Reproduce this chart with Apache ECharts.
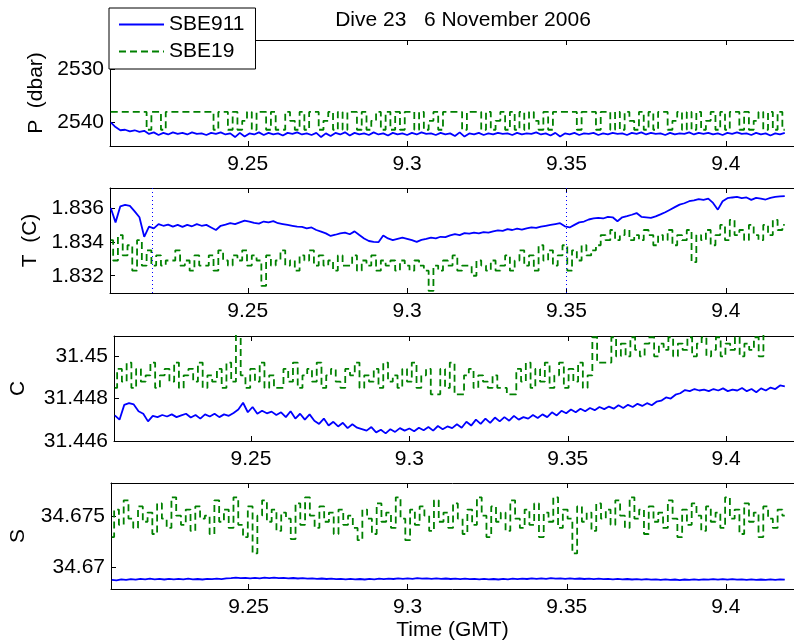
<!DOCTYPE html>
<html>
<head>
<meta charset="utf-8">
<script src="https://cdn.jsdelivr.net/npm/echarts/dist/echarts.min.js"></script>
<style>html,body{margin:0;padding:0;background:#fff}#c{width:794px;height:642px}</style>
</head>
<body>
<div id="c"></div>
<script>
// ---- data ----
const time = [
9.207,9.2085,9.21,9.2115,9.213,9.2145,9.216,9.2175,9.219,9.2205,
9.222,9.2235,9.225,9.2265,9.228,9.2295,9.231,9.2325,9.234,9.2355,
9.237,9.2385,9.24,9.2415,9.243,9.2445,9.246,9.2475,9.249,9.2505,
9.252,9.2535,9.255,9.2565,9.258,9.2595,9.261,9.2625,9.264,9.2655,
9.267,9.2685,9.27,9.2715,9.273,9.2745,9.276,9.2775,9.279,9.2805,
9.282,9.2835,9.285,9.2865,9.288,9.2895,9.291,9.2925,9.294,9.2955,
9.297,9.2985,9.3,9.3015,9.303,9.3045,9.306,9.3075,9.309,9.3105,
9.312,9.3135,9.315,9.3165,9.318,9.3195,9.321,9.3225,9.324,9.3255,
9.327,9.3285,9.33,9.3315,9.333,9.3345,9.336,9.3375,9.339,9.3405,
9.342,9.3435,9.345,9.3465,9.348,9.3495,9.351,9.3525,9.354,9.3555,
9.357,9.3585,9.36,9.3615,9.363,9.3645,9.366,9.3675,9.369,9.3705,
9.372,9.3735,9.375,9.3765,9.378,9.3795,9.381,9.3825,9.384,9.3855,
9.387,9.3885,9.39,9.3915,9.393,9.3945,9.396,9.3975,9.399,9.4005,
9.402,9.4035,9.405,9.4065,9.408,9.4095,9.411,9.4125,9.414,9.4155,
9.417,9.4185];

const pressure911 = [
2540.1,2541.0,2541.6,2541.5,2541.8,2541.6,2541.9,2541.7,2542.3,2542.0,
2542.5,2542.1,2542.4,2542.0,2542.3,2542.1,2542.4,2542.0,2542.3,2542.2,
2542.5,2542.1,2542.3,2542.0,2542.4,2542.2,2542.9,2542.1,2542.8,2542.2,
2542.4,2542.0,2542.5,2542.1,2542.4,2542.2,2542.6,2542.1,2542.3,2542.0,
2542.4,2542.2,2542.5,2542.1,2542.9,2542.2,2542.7,2542.1,2542.4,2542.0,
2542.6,2542.1,2542.4,2542.2,2542.5,2542.0,2542.4,2542.2,2542.6,2542.1,
2542.4,2542.2,2542.5,2542.1,2542.4,2542.0,2542.3,2542.2,2542.5,2542.1,
2542.4,2542.2,2542.7,2542.0,2542.8,2542.2,2542.4,2542.1,2542.5,2542.2,
2542.4,2542.1,2542.3,2542.2,2542.5,2542.1,2542.4,2542.2,2542.3,2542.0,
2542.4,2542.2,2542.6,2542.1,2542.8,2542.2,2542.4,2542.1,2542.5,2542.2,
2542.3,2542.1,2542.5,2542.2,2542.4,2542.1,2542.3,2542.2,2542.5,2542.1,
2542.3,2542.0,2542.4,2542.1,2542.3,2542.2,2542.5,2542.1,2542.4,2542.2,
2542.3,2542.0,2542.4,2542.1,2542.3,2542.1,2542.4,2542.2,2542.5,2542.1,
2542.3,2542.0,2542.3,2542.2,2542.5,2542.1,2542.4,2542.2,2542.6,2542.2,
2542.4,2542.1];

const pressure19 = [
2538.1,2538.1,2538.1,2538.1,2538.1,2538.1,2538.1,2538.1,2541.5,2538.1,
2538.1,2541.5,2538.1,2538.1,2538.1,2538.1,2538.1,2538.1,2538.1,2538.1,
2538.1,2538.1,2541.5,2538.1,2538.1,2541.5,2538.1,2541.5,2539.8,2538.1,
2541.5,2538.1,2538.1,2541.5,2538.1,2541.5,2541.5,2538.1,2539.8,2541.5,
2538.1,2541.5,2538.1,2538.1,2541.5,2539.8,2538.1,2541.5,2538.1,2541.5,
2538.1,2538.1,2541.5,2538.1,2541.5,2539.8,2538.1,2541.5,2538.1,2541.5,
2538.1,2541.5,2538.1,2538.1,2541.5,2538.1,2541.5,2539.8,2538.1,2541.5,
2538.1,2538.1,2538.1,2538.1,2541.5,2538.1,2538.1,2538.1,2541.5,2538.1,
2541.5,2539.8,2538.1,2541.5,2538.1,2541.5,2538.1,2541.5,2538.1,2539.8,
2541.5,2538.1,2541.5,2538.1,2538.1,2538.1,2538.1,2538.1,2541.5,2538.1,
2538.1,2538.1,2541.5,2538.1,2538.1,2541.5,2538.1,2541.5,2538.1,2539.8,
2541.5,2538.1,2541.5,2538.1,2541.5,2538.1,2538.1,2541.5,2539.8,2538.1,
2541.5,2538.1,2541.5,2538.1,2541.5,2539.8,2538.1,2541.5,2538.1,2541.5,
2538.1,2538.1,2541.5,2538.1,2541.5,2539.8,2538.1,2541.5,2538.1,2541.5,
2538.1,2541.5];

const temp911 = [
1.83600,1.83515,1.83610,1.83618,1.83612,1.83580,1.83545,1.83430,1.83490,1.83480,
1.83505,1.83495,1.83502,1.83490,1.83500,1.83488,1.83500,1.83492,1.83505,1.83495,
1.83500,1.83485,1.83470,1.83495,1.83502,1.83510,1.83505,1.83515,1.83525,1.83520,
1.83512,1.83508,1.83520,1.83515,1.83522,1.83510,1.83505,1.83500,1.83495,1.83490,
1.83488,1.83480,1.83485,1.83470,1.83460,1.83450,1.83435,1.83442,1.83450,1.83455,
1.83445,1.83462,1.83440,1.83420,1.83405,1.83400,1.83398,1.83438,1.83420,1.83410,
1.83418,1.83425,1.83418,1.83410,1.83400,1.83412,1.83418,1.83425,1.83420,1.83430,
1.83428,1.83438,1.83445,1.83440,1.83452,1.83448,1.83455,1.83450,1.83458,1.83455,
1.83462,1.83468,1.83465,1.83475,1.83470,1.83478,1.83472,1.83480,1.83485,1.83482,
1.83490,1.83495,1.83500,1.83505,1.83510,1.83492,1.83485,1.83500,1.83515,1.83520,
1.83532,1.83538,1.83542,1.83538,1.83548,1.83545,1.83522,1.83545,1.83552,1.83560,
1.83570,1.83548,1.83545,1.83542,1.83550,1.83562,1.83575,1.83590,1.83605,1.83620,
1.83628,1.83640,1.83645,1.83652,1.83648,1.83655,1.83630,1.83590,1.83640,1.83658,
1.83662,1.83665,1.83658,1.83662,1.83648,1.83660,1.83655,1.83650,1.83660,1.83665,
1.83668,1.83670];

const temp19 = [
1.8341,1.8329,1.8344,1.8332,1.8338,1.8323,1.8341,1.8326,1.8335,1.8326,
1.8332,1.8326,1.8329,1.8329,1.8335,1.8326,1.8329,1.8323,1.8332,1.8326,
1.8326,1.8332,1.8323,1.8335,1.8329,1.8326,1.8332,1.8329,1.8335,1.8326,
1.8332,1.8329,1.8314,1.8332,1.8326,1.8329,1.8335,1.8326,1.8329,1.8323,
1.8332,1.8329,1.8335,1.8326,1.8332,1.8326,1.8329,1.8323,1.8332,1.8326,
1.8326,1.8332,1.8323,1.8329,1.8326,1.8332,1.8323,1.8329,1.8326,1.8329,
1.8323,1.8329,1.8326,1.8323,1.8329,1.8326,1.8323,1.8311,1.8326,1.8323,
1.8329,1.8326,1.8332,1.8323,1.8326,1.8326,1.8320,1.8329,1.8326,1.8323,
1.8329,1.8323,1.8326,1.8332,1.8323,1.8329,1.8335,1.8326,1.8332,1.8323,
1.8338,1.8329,1.8335,1.8326,1.8332,1.8338,1.8323,1.8335,1.8329,1.8338,
1.8332,1.8335,1.8338,1.8344,1.8341,1.8347,1.8341,1.8344,1.8347,1.8341,
1.8344,1.8341,1.8347,1.8344,1.8338,1.8344,1.8341,1.8347,1.8338,1.8344,
1.8341,1.8347,1.8328,1.8344,1.8341,1.8347,1.8338,1.8344,1.8350,1.8341,
1.8353,1.8344,1.8347,1.8341,1.8350,1.8344,1.8341,1.8350,1.8344,1.8353,
1.8347,1.8350];

const cond911 = [
31.44720,31.44700,31.44770,31.44778,31.44772,31.44740,31.44728,31.44692,31.44718,31.44712,
31.44722,31.44715,31.44725,31.44712,31.44720,31.44728,31.44710,31.44722,31.44705,31.44725,
31.44715,31.44728,31.44712,31.44725,31.44718,31.44732,31.44748,31.44780,31.44735,31.44760,
31.44728,31.44742,31.44730,31.44738,31.44722,31.44735,31.44712,31.44740,31.44705,31.44728,
31.44700,31.44725,31.44695,31.44680,31.44705,31.44672,31.44690,31.44668,31.44685,31.44660,
31.44678,31.44662,31.44655,31.44648,31.44665,31.44640,31.44652,31.44635,31.44655,31.44642,
31.44660,31.44648,31.44658,31.44645,31.44662,31.44650,31.44665,31.44648,31.44670,31.44655,
31.44668,31.44660,31.44678,31.44662,31.44690,31.44672,31.44700,31.44680,31.44705,31.44685,
31.44710,31.44692,31.44712,31.44695,31.44718,31.44700,31.44712,31.44705,31.44722,31.44708,
31.44725,31.44712,31.44735,31.44720,31.44742,31.44730,31.44748,31.44735,31.44752,31.44740,
31.44755,31.44745,31.44760,31.44750,31.44762,31.44752,31.44768,31.44755,31.44770,31.44760,
31.44775,31.44765,31.44778,31.44768,31.44785,31.44790,31.44805,31.44800,31.44818,31.44825,
31.44840,31.44835,31.44845,31.44838,31.44842,31.44835,31.44845,31.44838,31.44848,31.44835,
31.44842,31.44838,31.44850,31.44835,31.44845,31.44830,31.44848,31.44838,31.44852,31.44845,
31.44862,31.44858];

const cond19 = [
31.4485,31.4494,31.4488,31.4497,31.4485,31.4494,31.4488,31.4491,31.4497,31.4485,
31.4491,31.4494,31.4488,31.4497,31.4485,31.4491,31.4494,31.4488,31.4497,31.4485,
31.4491,31.4488,31.4494,31.4485,31.4497,31.4488,31.4512,31.4491,31.4485,31.4494,
31.4488,31.4497,31.4485,31.4491,31.4485,31.4485,31.4494,31.4488,31.4497,31.4485,
31.4491,31.4494,31.4488,31.4497,31.4485,31.4491,31.4494,31.4488,31.4485,31.4494,
31.4491,31.4497,31.4485,31.4491,31.4488,31.4494,31.4485,31.4497,31.4488,31.4491,
31.4485,31.4494,31.4488,31.4497,31.4485,31.4491,31.4494,31.4482,31.4482,31.4494,
31.4485,31.4497,31.4482,31.4482,31.4491,31.4494,31.4485,31.4491,31.4488,31.4485,
31.4491,31.4485,31.4485,31.4482,31.4482,31.4494,31.4488,31.4497,31.4485,31.4494,
31.4488,31.4497,31.4485,31.4491,31.4497,31.4485,31.4494,31.4488,31.4497,31.4485,
31.4491,31.4509,31.4497,31.4497,31.4497,31.4509,31.4500,31.4506,31.4500,31.4509,
31.4503,31.4500,31.4506,31.4509,31.4500,31.4506,31.4503,31.4509,31.4500,31.4506,
31.4503,31.4509,31.4500,31.4506,31.4509,31.4500,31.4503,31.4509,31.4500,31.4506,
31.4503,31.4509,31.4500,31.4506,31.4503,31.4509,31.4500,31.4511,31.4511,31.4511,
31.4511,31.4511];

const sal911 = [
34.66880,34.66875,34.66885,34.66880,34.66888,34.66882,34.66890,34.66885,34.66892,34.66886,
34.66890,34.66884,34.66891,34.66886,34.66890,34.66885,34.66892,34.66886,34.66889,34.66884,
34.66891,34.66887,34.66892,34.66888,34.66895,34.66898,34.66902,34.66897,34.66901,34.66896,
34.66900,34.66896,34.66902,34.66898,34.66903,34.66897,34.66900,34.66895,34.66899,34.66894,
34.66897,34.66892,34.66896,34.66890,34.66894,34.66889,34.66892,34.66887,34.66891,34.66886,
34.66890,34.66885,34.66889,34.66884,34.66890,34.66886,34.66892,34.66887,34.66893,34.66889,
34.66895,34.66890,34.66896,34.66891,34.66897,34.66892,34.66896,34.66890,34.66895,34.66890,
34.66894,34.66889,34.66893,34.66888,34.66892,34.66887,34.66891,34.66886,34.66890,34.66885,
34.66889,34.66884,34.66890,34.66886,34.66892,34.66887,34.66893,34.66889,34.66895,34.66890,
34.66896,34.66891,34.66897,34.66892,34.66896,34.66890,34.66895,34.66890,34.66894,34.66889,
34.66893,34.66888,34.66892,34.66887,34.66891,34.66886,34.66890,34.66885,34.66889,34.66884,
34.66888,34.66883,34.66887,34.66882,34.66886,34.66881,34.66885,34.66880,34.66884,34.66879,
34.66884,34.66880,34.66885,34.66881,34.66886,34.66882,34.66887,34.66883,34.66888,34.66883,
34.66887,34.66882,34.66886,34.66881,34.66885,34.66880,34.66884,34.66880,34.66885,34.66881,
34.66886,34.66882];

const sal19 = [
34.6730,34.6757,34.6742,34.6766,34.6748,34.6739,34.6760,34.6745,34.6754,34.6733,
34.6763,34.6748,34.6739,34.6769,34.6751,34.6742,34.6757,34.6736,34.6760,34.6748,
34.6751,34.6733,34.6766,34.6745,34.6757,34.6739,34.6769,34.6742,34.6730,34.6760,
34.6714,34.6751,34.6766,34.6745,34.6757,34.6736,34.6754,34.6748,34.6728,34.6763,
34.6742,34.6769,34.6751,34.6739,34.6760,34.6745,34.6754,34.6733,34.6757,34.6742,
34.6751,34.6739,34.6727,34.6757,34.6748,34.6733,34.6763,34.6745,34.6754,34.6739,
34.6769,34.6748,34.6727,34.6757,34.6742,34.6760,34.6751,34.6736,34.6766,34.6745,
34.6754,34.6739,34.6763,34.6748,34.6733,34.6757,34.6742,34.6769,34.6751,34.6730,
34.6760,34.6745,34.6754,34.6736,34.6766,34.6748,34.6739,34.6757,34.6742,34.6763,
34.6730,34.6754,34.6745,34.6769,34.6739,34.6757,34.6748,34.6714,34.6760,34.6745,
34.6754,34.6736,34.6763,34.6748,34.6757,34.6742,34.6766,34.6751,34.6739,34.6769,
34.6748,34.6757,34.6733,34.6760,34.6745,34.6754,34.6739,34.6766,34.6748,34.6730,
34.6757,34.6742,34.6763,34.6751,34.6736,34.6760,34.6745,34.6754,34.6739,34.6769,
34.6748,34.6757,34.6733,34.6763,34.6745,34.6754,34.6730,34.6760,34.6748,34.6739,
34.6757,34.6751];

const xTicks = [9.25, 9.3, 9.35, 9.4];
const pTicks = [2530, 2540];
const tTicks = [1.832, 1.834, 1.836];
const cTicks = [31.446, 31.448, 31.45];
const sTicks = [34.67, 34.675];
const markTimes = [9.2198, 9.35];
const seriesNames = ['SBE911', 'SBE19'];
const yNames = ['P  (dbar)', 'T  (C)', 'C', 'S'];
const titleText = 'Dive 23   6 November 2006';
const xName = 'Time (GMT)';

// ---- layout / style ----
const FONT = '"Liberation Sans", Arial, Helvetica, sans-serif';
const FS = 21;
const BLUE = '#0000ff', GREEN = '#008000';
const XMIN = 9.20676, XMAX = 9.4214;
const gridBoxes = [{top: 40, height: 106}, {top: 188, height: 105}, {top: 336, height: 105}, {top: 483, height: 106}];
const yRanges = [
  {min: 2524.4, max: 2544.6, inverse: true, ticks: pTicks, gap: 60},
  {min: 1.83098, max: 1.83718, inverse: false, ticks: tTicks, gap: 66},
  {min: 31.44599, max: 31.45096, inverse: false, ticks: cTicks, gap: 85},
  {min: 34.66791, max: 34.6783, inverse: false, ticks: sTicks, gap: 82}
];
const fmt = v => String(+(+v).toFixed(5));

const grid = gridBoxes.map(g => ({left: 110, right: -11, top: g.top, height: g.height, show: false}));
const xAxis = [];
gridBoxes.forEach((g, i) => {
  xAxis.push({
    gridIndex: i, type: 'value', min: XMIN, max: XMAX, position: 'bottom',
    axisLine: {show: true, onZero: false, lineStyle: {color: '#000', width: 1}},
    axisTick: {show: true, inside: true, length: 5, customValues: xTicks, lineStyle: {color: '#000'}},
    axisLabel: {show: true, customValues: xTicks, formatter: fmt, color: '#000', fontSize: FS, fontFamily: FONT, margin: 8},
    splitLine: {show: false},
    name: i === 3 ? xName : '', nameLocation: 'middle', nameGap: 31,
    nameTextStyle: {color: '#000', fontSize: FS, fontFamily: FONT}
  });
  xAxis.push({
    gridIndex: i, type: 'value', min: XMIN, max: XMAX, position: 'top',
    axisLine: {show: true, onZero: false, lineStyle: {color: '#000', width: 1}},
    axisTick: {show: true, inside: true, length: 5, customValues: xTicks, lineStyle: {color: '#000'}},
    axisLabel: {show: false}, splitLine: {show: false}
  });
});
const yAxis = yRanges.map((r, i) => ({
  gridIndex: i, type: 'value', min: r.min, max: r.max, inverse: r.inverse, position: 'left',
  axisLine: {show: true, onZero: false, lineStyle: {color: '#000', width: 1}},
  axisTick: {show: true, inside: true, length: 5, customValues: r.ticks, lineStyle: {color: '#000'}},
  axisLabel: {show: true, customValues: r.ticks, formatter: fmt, color: '#000', fontSize: FS, fontFamily: FONT, margin: 6},
  splitLine: {show: false},
  name: yNames[i], nameLocation: 'middle', nameGap: r.gap, nameRotate: 90,
  nameTextStyle: {color: '#000', fontSize: FS, fontFamily: FONT}
}));

const pairs = arr => time.map((t, i) => [t, arr[i]]);
const panels = [[pressure911, pressure19], [temp911, temp19], [cond911, cond19], [sal911, sal19]];
const series = [];
panels.forEach((p, i) => {
  const blue = {
    name: seriesNames[0], type: 'line', xAxisIndex: 2 * i, yAxisIndex: i, data: pairs(p[0]),
    symbol: 'none', showSymbol: false, animation: false, z: 3,
    lineStyle: {color: BLUE, width: 1.8}, itemStyle: {color: BLUE}
  };
  if (i === 1) {
    blue.markLine = {
      silent: true, symbol: 'none', animation: false, label: {show: false},
      lineStyle: {color: BLUE, type: [1, 3], width: 1},
      data: markTimes.map(t => ({xAxis: t}))
    };
  }
  series.push(blue);
  series.push({
    name: seriesNames[1], type: 'line', xAxisIndex: 2 * i, yAxisIndex: i, data: pairs(p[1]),
    step: 'middle', symbol: 'none', showSymbol: false, animation: false, z: 2,
    lineStyle: {color: GREEN, width: 1.8, type: [7, 4]}, itemStyle: {color: GREEN}
  });
});

const chart = echarts.init(document.getElementById('c'), null, {renderer: 'canvas'});
chart.setOption({
  animation: false,
  backgroundColor: '#fff',
  textStyle: {fontFamily: FONT},
  title: {text: titleText, left: 458, top: 5, textAlign: 'center',
    textStyle: {fontSize: FS, fontWeight: 'normal', color: '#000', fontFamily: FONT}},
  legend: {
    data: seriesNames, orient: 'vertical', left: 109, top: 8,
    padding: [6, 11, 7, 9], itemGap: 6, itemWidth: 45, itemHeight: 14,
    backgroundColor: '#fff', borderColor: '#000', borderWidth: 1, borderRadius: 0,
    selectedMode: false, z: 10,
    itemStyle: {opacity: 0},
    textStyle: {fontSize: FS, color: '#000', fontFamily: FONT}
  },
  grid, xAxis, yAxis, series
});
</script>
</body>
</html>
